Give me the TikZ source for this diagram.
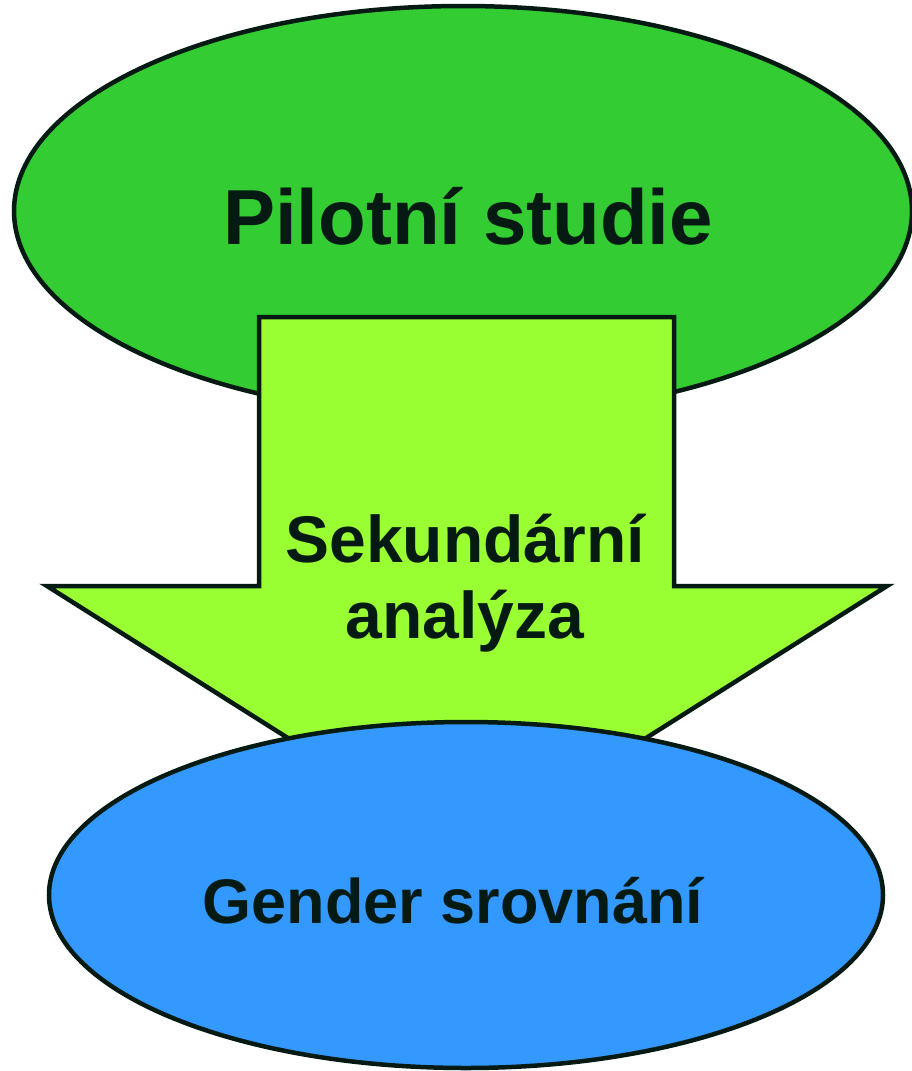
\documentclass[tikz,border=0pt]{standalone}
\usepackage{fontspec}
\setmainfont{Liberation Sans}
\usetikzlibrary{shapes.geometric}
\definecolor{pilotgreen}{HTML}{33CC33}
\definecolor{arrowlime}{HTML}{99FF33}
\definecolor{genderblue}{HTML}{3399FF}
\definecolor{inkdark}{HTML}{061A14}
\begin{document}
\begin{tikzpicture}[x=1pt,y=-1pt,
   outline/.style={draw=inkdark, line width=4.5pt, line join=miter},
   blob/.style={outline, ellipse, inner sep=0pt},
   lbl/.style={text=inkdark, anchor=base, inner sep=0pt, font=\bfseries}]
   \useasboundingbox (0,0) rectangle (912,1071);
   \node[blob, fill=pilotgreen, minimum width=898pt, minimum height=410pt] (pilot) at (463,211) {};
   \node[lbl, font=\bfseries\fontsize{78}{90}\selectfont] (pilotlbl) at (468,244) {Pilotní studie};
   % the arrow
   \draw[outline, fill=arrowlime] (259,317) -- (674,317) -- (674,586) -- (887,586)
      -- (467,851) -- (47,586) -- (259,586) -- cycle;
   \node[lbl, font=\bfseries\fontsize{66}{76}\selectfont] (sekundar) at (465,562) {Sekundární};
   \node[lbl, font=\bfseries\fontsize{66}{76}\selectfont] (analyza) at (465,638) {analýza};
   \node[blob, fill=genderblue, minimum width=834pt, minimum height=346pt] (gender) at (466,895) {};
   \node[lbl, font=\bfseries\fontsize{63}{74}\selectfont] (genderlbl) at (453,923) {Gender srovnání};
\end{tikzpicture}
\end{document}
